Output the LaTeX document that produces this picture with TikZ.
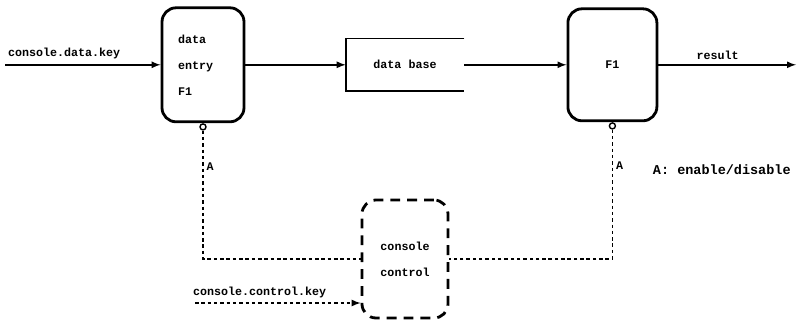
\documentclass[tikz,border=0pt]{standalone}
\usepackage{fontspec}
\newfontfamily\termfont{Liberation Mono}
\usepackage{tikz}
\usetikzlibrary{positioning}

\begin{document}
\begin{tikzpicture}[
    font=\termfont\bfseries\fontsize{8.3}{18.5}\selectfont,
    func/.style={rectangle,draw,line width=2pt,rounded corners=10pt},
    store/.style={rectangle,minimum width=2.95cm,minimum height=1.3cm},
    ctrlbox/.style={rectangle,draw,line width=2pt,rounded corners=10pt,
        dash pattern=on 7pt off 5pt,align=center},
    gate/.style={circle,draw,line width=1pt,minimum size=0.15cm,inner sep=0pt},
    arrow/.style={->,>=latex,line width=1.2pt},
    ctrl/.style={line width=1.2pt,dash pattern=on 2.5pt off 2pt}
]

\useasboundingbox (0,0) rectangle (19.975,-8.025);

\node[func,minimum width=2.05cm,minimum height=2.85cm,text width=1.25cm,align=left]
    (entry) at (5.075,-1.62) {data\\entry\\F1};
\node[store] (dbase) at (10.125,-1.62) {data base};
\node[func,minimum width=2.225cm,minimum height=2.8cm] (f1) at (15.31,-1.62) {F1};
\node[ctrlbox,minimum width=2.15cm,minimum height=2.95cm] (console) at (10.125,-6.475)
    {console\\control};

\node[gate,below=0pt of entry] (gateA) {};
\node[gate,below=0pt of f1] (gateB) {};

\coordinate (datakey) at (0.125,-1.62);
\coordinate (resout) at (19.9,-1.62);
\coordinate (ctrlkey) at (4.875,-7.575);

% data base is open on the right
\draw[line width=1.2pt] (dbase.north east) -- (dbase.north west)
    -- (dbase.south west) -- (dbase.south east);

\draw[arrow] (datakey) -- node[above,pos=0.38]{console.data.key} (entry);
\draw[arrow] (entry) -- (dbase);
\draw[arrow] (dbase) -- (f1);
\draw[arrow] (f1) -- node[above,pos=0.43]{result} (resout);

% enable/disable lines
\draw[ctrl] (gateA) |- node[right,pos=0.14,inner sep=2pt]{A} (console.west);
\draw[ctrl] (gateB) |- node[right,pos=0.14,inner sep=2pt]{A} (console.east);
\draw[ctrl,->,>=latex] (ctrlkey) -- node[above,pos=0.39]{console.control.key}
    (ctrlkey -| console.west);

\node[anchor=west,font=\termfont\bfseries\fontsize{9.6}{12}\selectfont] (legend)
    at (16.2,-4.25) {A: enable/disable};

\end{tikzpicture}
\end{document}
